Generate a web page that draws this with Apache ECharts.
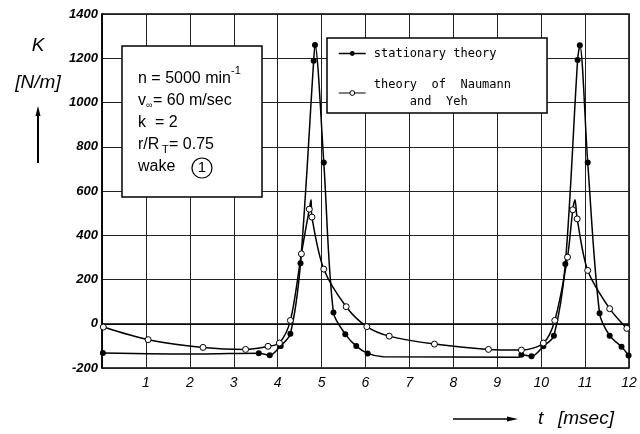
<!DOCTYPE html>
<html><head><meta charset="utf-8">
<script src="https://cdn.jsdelivr.net/npm/echarts@6/dist/echarts.min.js"></script>
<style>html,body{margin:0;padding:0;background:#fff}#c{width:640px;height:434px}</style>
</head><body><div id="c"></div>
<script>
// ---- data ----
const xMin = 0, xMax = 12, xStep = 1;      // t [msec]
const yMin = -200, yMax = 1400, yStep = 200; // K [N/m]

const seriesNames = ['stationary theory', 'theory  of  Naumann\n     and  Yeh'];

// stationary theory (filled dots); marked = 1 where a dot is drawn
const statT = [0.02, 2.2, 3.57, 3.82, 4.07, 4.29, 4.52, 4.82, 4.85, 5.05, 5.27, 5.54, 5.79, 6.05, 6.4, 9.5, 9.55, 9.78, 10.05, 10.29, 10.55, 10.83, 10.88, 11.06, 11.33, 11.56, 11.83, 11.99];
const statK = [-132, -137, -133, -142, -100, -45, 274, 1189, 1260, 729, 51, -47, -101, -134, -149, -151, -140, -147, -102, -54, 270, 1192, 1259, 729, 48, -54, -104, -143];
const statMarked = [1, 0, 1, 1, 1, 1, 1, 1, 1, 1, 1, 1, 1, 1, 0, 0, 1, 1, 1, 1, 1, 1, 1, 1, 1, 1, 1, 1];

// theory of Naumann and Yeh (open circles)
const naumT = [0.03, 1.05, 2.3, 3.27, 3.78, 4.04, 4.29, 4.54, 4.72, 4.76, 4.78, 5.05, 5.56, 6.03, 6.54, 7.57, 8.8, 9.55, 10.05, 10.31, 10.6, 10.72, 10.77, 10.82, 11.06, 11.56, 11.95];
const naumK = [-15, -72, -107, -116, -102, -87, 15, 316, 518, 560, 482, 247, 77, -13, -56, -92, -116, -119, -87, 15, 301, 515, 560, 474, 241, 68, -21];
const naumMarked = [1, 1, 1, 1, 1, 1, 1, 1, 1, 0, 1, 1, 1, 1, 1, 1, 1, 1, 1, 1, 1, 1, 0, 1, 1, 1, 1];

function build(T, K, M) {
  return T.map((t, i) => ({ value: [t, K[i]], symbol: M[i] ? 'circle' : 'none' }));
}

const chart = echarts.init(document.getElementById('c'));
const ital = { fontStyle: 'italic', fontFamily: 'Liberation Sans', color: '#000' };

function txt(x, y, s, size, extra) {
  return { type: 'text', x: x, y: y, z: 100,
    style: Object.assign({ text: s, fontSize: size, fontFamily: 'Liberation Sans', fill: '#000', textVerticalAlign: 'middle' }, extra || {}) };
}

chart.setOption({
  animation: false,
  backgroundColor: '#fff',
  grid: { left: 102, right: 11, top: 14, bottom: 66, show: true, borderColor: '#000', borderWidth: 1.5, backgroundColor: 'transparent' },
  xAxis: {
    type: 'value', min: xMin, max: xMax, interval: xStep,
    axisLine: { lineStyle: { color: '#000', width: 1.5 } },
    axisTick: { show: false },
    splitLine: { lineStyle: { color: '#222', width: 1 } },
    axisLabel: Object.assign({ fontSize: 14, margin: 8, formatter: v => v === 0 ? '' : String(v) }, ital)
  },
  yAxis: {
    type: 'value', min: yMin, max: yMax, interval: yStep,
    axisLine: { lineStyle: { color: '#000', width: 1.5 } },
    axisTick: { show: false },
    splitLine: { lineStyle: { color: '#222', width: 1 } },
    axisLabel: Object.assign({ fontSize: 13, margin: 4, fontWeight: 'bold', formatter: v => String(v) }, ital)
  },
  legend: {
    left: 327, top: 38, orient: 'vertical',
    itemWidth: 27, itemHeight: 6, itemGap: 14,
    padding: [7, 36, 3, 11],
    borderColor: '#000', borderWidth: 1.5, backgroundColor: '#fff', borderRadius: 0,
    textStyle: { fontFamily: 'DejaVu Sans Mono', fontSize: 12, color: '#000', lineHeight: 17, padding: [0, 0, 0, 3] },
    data: [
      { name: seriesNames[0], itemStyle: { color: '#000', borderColor: '#000', borderWidth: 0 }, lineStyle: { color: '#000', width: 1.5, type: 'solid' } },
      { name: seriesNames[1], itemStyle: { color: '#fff', borderColor: '#000', borderWidth: 1 }, lineStyle: { color: '#000', width: 1, type: 'solid' } }
    ]
  },
  series: [
    {
      name: seriesNames[0], type: 'line', smooth: 0.3, symbol: 'circle',
      data: build(statT, statK, statMarked),
      symbolSize: 6,
      lineStyle: { color: '#000', width: 1.5 },
      itemStyle: { color: '#000', borderColor: '#000', borderWidth: 0 },
      z: 3
    },
    {
      name: seriesNames[1], type: 'line', smooth: 0.3, symbol: 'circle',
      data: build(naumT, naumK, naumMarked),
      symbolSize: 6,
      lineStyle: { color: '#000', width: 1.5 },
      itemStyle: { color: '#fff', borderColor: '#000', borderWidth: 1 },
      z: 4
    }
  ],
  graphic: [
    // parameter box
    { type: 'rect', z: 90, shape: { x: 122, y: 46, width: 140, height: 151 }, style: { fill: '#fff', stroke: '#000', lineWidth: 1.5 } },
    txt(138, 79, 'n = 5000 min', 16),
    txt(231, 71, '-1', 11),
    txt(138, 101, 'v', 16),
    txt(146, 106, '\u221E', 9),
    txt(153, 101, '= 60 m/sec', 16),
    txt(138, 123, 'k  = 2', 16),
    txt(138, 145, 'r/R', 16),
    txt(162, 150, 'T', 11),
    txt(169, 145, '= 0.75', 16),
    txt(138, 167, 'wake', 16),
    { type: 'circle', z: 100, shape: { cx: 202, cy: 168, r: 10 }, style: { fill: 'none', stroke: '#000', lineWidth: 1.2 } },
    txt(202, 168, '1', 15, { textAlign: 'center' }),
    // y axis name
    txt(38, 46, 'K', 19, { textAlign: 'center', fontStyle: 'italic' }),
    txt(38, 83, '[N/m]', 19, { textAlign: 'center', fontStyle: 'italic' }),
    { type: 'line', z: 100, shape: { x1: 38, y1: 163, x2: 38, y2: 112 }, style: { stroke: '#000', lineWidth: 2 } },
    { type: 'polygon', z: 100, shape: { points: [[35.5, 116], [38, 106], [40.5, 116]] }, style: { fill: '#000' } },
    // x axis name
    { type: 'line', z: 100, shape: { x1: 453, y1: 419, x2: 510, y2: 419 }, style: { stroke: '#000', lineWidth: 1.5 } },
    { type: 'polygon', z: 100, shape: { points: [[507, 416.5], [518, 419], [507, 421.5]] }, style: { fill: '#000' } },
    txt(538, 419, 't', 19, { fontStyle: 'italic' }),
    txt(558, 419, '[msec]', 19, { fontStyle: 'italic' })
  ]
});
</script>
</body></html>
